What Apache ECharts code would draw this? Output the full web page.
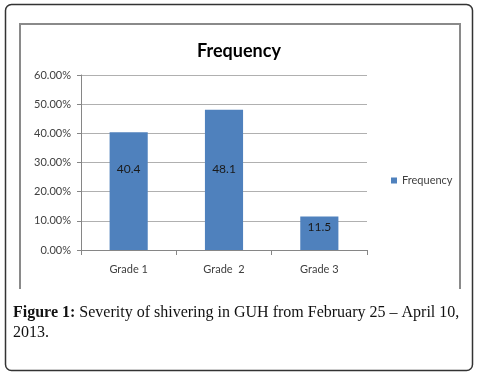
<!DOCTYPE html>
<html>
<head>
<meta charset="utf-8">
<script src="https://cdn.jsdelivr.net/npm/echarts@6/dist/echarts.min.js"></script>
<style>
  html, body { margin: 0; padding: 0; background: #fff; }
  #chart { width: 478px; height: 373px; }
</style>
</head>
<body>
<div id="chart"></div>
<script>
// values
var grades = ['Grade 1', 'Grade  2', 'Grade 3'];
var frequency = [40.4, 48.1, 11.5];
var seriesName = 'Frequency';
var captionLine1 = 'Severity of shivering in GUH from February 25 \u2013 April 10,';
var captionLine2 = '2013.';

var chart = echarts.init(document.getElementById('chart'));

// labels sit at hand-placed heights in the original
var labelDistance = [31, 53, 5];

var option = {
    backgroundColor: '#fff',
    animation: false,
    textStyle: { fontFamily: 'Lato, sans-serif' },
    title: {
        text: 'Frequency',
        left: 'center',
        top: 37,
        textStyle: { fontSize: 18, fontWeight: 'bold', color: '#000', fontFamily: 'Lato, sans-serif' }
    },
    legend: {
        left: 386,
        top: 170,
        icon: 'rect',
        itemWidth: 6,
        itemHeight: 6,
        textStyle: { fontSize: 11, color: '#404040' },
        data: [seriesName]
    },
    grid: { left: 81, right: 111, top: 75, bottom: 123 },
    xAxis: {
        type: 'category',
        data: grades,
        axisLine: { lineStyle: { color: '#868686', width: 1 } },
        axisTick: { show: true, length: 5, lineStyle: { color: '#868686' } },
        axisLabel: { color: '#404040', fontSize: 11, margin: 14 }
    },
    yAxis: {
        type: 'value',
        min: 0,
        max: 60,
        interval: 10,
        axisLine: { show: true, lineStyle: { color: '#868686' } },
        axisTick: { show: true, length: 4, lineStyle: { color: '#868686' } },
        axisLabel: {
            color: '#404040',
            fontSize: 11,
            margin: 10,
            formatter: function (v) { return v.toFixed(2) + '%'; }
        },
        splitLine: { lineStyle: { color: '#b0b0b0' } }
    },
    series: [{
        name: seriesName,
        type: 'bar',
        barWidth: '40%',
        itemStyle: { color: '#4f81bd' },
        label: {
            show: true,
            position: 'insideTop',
            color: '#1a1a1a',
            fontSize: 12
        },
        data: frequency.map(function (v, i) {
            return { value: v, label: { distance: labelDistance[i] } };
        })
    }],
    graphic: [
        {
            type: 'rect',
            shape: { x: 5.5, y: 4.5, width: 467, height: 366, r: 6 },
            style: { fill: null, stroke: '#333', lineWidth: 1.5 },
            z: -1
        },
        {
            type: 'polyline',
            shape: { points: [[20, 289], [20, 24], [460, 24], [460, 289]] },
            style: { fill: null, stroke: '#8a8a8a', lineWidth: 2 },
            z: -1
        },
        {
            type: 'text',
            left: 13,
            top: 305,
            style: {
                text: '{b|Figure 1:} ' + captionLine1,
                fontFamily: '"Liberation Serif", serif',
                fontSize: 16,
                fill: '#111',
                rich: { b: { fontWeight: 'bold', fontFamily: '"Liberation Serif", serif', fontSize: 16 } }
            }
        },
        {
            type: 'text',
            left: 13,
            top: 325,
            style: {
                text: captionLine2,
                fontFamily: '"Liberation Serif", serif',
                fontSize: 16,
                fill: '#111'
            }
        }
    ]
};

chart.setOption(option);
</script>
</body>
</html>
